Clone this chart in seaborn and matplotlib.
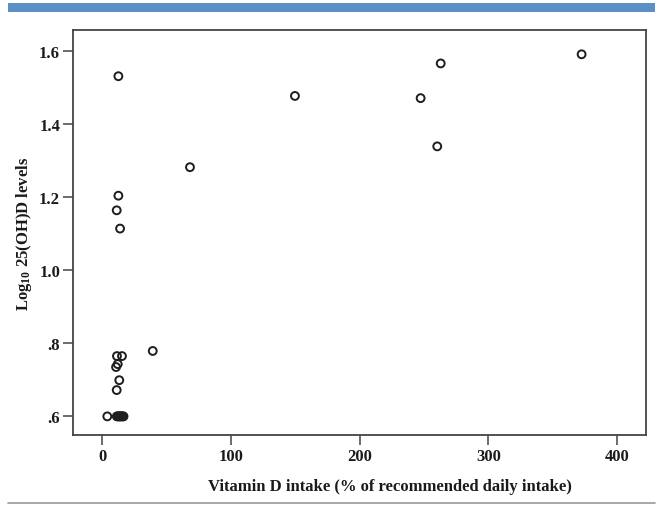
import matplotlib
matplotlib.use("Agg")
import matplotlib.pyplot as plt
import seaborn as sns
import pandas as pd
from matplotlib.patches import Rectangle
from matplotlib.lines import Line2D

# Data
vit_d_intake = [12.7, 12.7, 11.4, 14.0, 68.3, 149.8, 247.4, 263.0, 260.3, 372.4,
                39.4, 11.6, 15.5, 12.2, 10.9, 13.4, 11.4,
                4.1, 11.5, 12.3, 13.0, 13.8, 14.5, 15.3, 16.0, 16.7]
log_25ohd = [1.531, 1.204, 1.164, 1.114, 1.282, 1.477, 1.471, 1.566, 1.339, 1.591,
             0.779, 0.765, 0.765, 0.743, 0.735, 0.699, 0.672,
             0.600, 0.600, 0.600, 0.600, 0.600, 0.600, 0.600, 0.600, 0.600]
x_ticks = [0, 100, 200, 300, 400]
y_ticks = [0.6, 0.8, 1.0, 1.2, 1.4, 1.6]
y_tick_labels = [".6", ".8", "1.0", "1.2", "1.4", "1.6"]

df = pd.DataFrame({"intake": vit_d_intake, "log": log_25ohd})

sns.set_theme(style="white")
plt.rcParams["font.family"] = ["Liberation Serif", "DejaVu Serif"]
plt.rcParams["mathtext.fontset"] = "custom"
plt.rcParams["mathtext.rm"] = "Liberation Serif:bold"
plt.rcParams["mathtext.it"] = "Liberation Serif:bold"
plt.rcParams["mathtext.bf"] = "Liberation Serif:bold"

W, H = 659, 506
fig = plt.figure(figsize=(W / 100, H / 100), dpi=100)
ax = fig.add_axes([73.3 / W, 1 - 436 / H, (646 - 73.3) / W, (436 - 31) / H])

sns.scatterplot(data=df, x="intake", y="log", ax=ax, marker="o", s=32,
                facecolor="none", edgecolor="#1e1e1e", linewidth=1.4)

ax.set_xlim(-22.3, 422.4)
ax.set_ylim(0.549, 1.6575)
ax.set_xticks(x_ticks)
ax.set_xticklabels([str(t) for t in x_ticks])
ax.set_yticks(y_ticks)
ax.set_yticklabels(y_tick_labels)

for sp in ax.spines.values():
    sp.set_color("#444444")
    sp.set_linewidth(1.3)
    sp.set_visible(True)

ax.tick_params(axis="both", direction="out", length=7, width=1.1, color="#444444",
               labelsize=12, pad=2.5, bottom=True, left=True)
for lab in ax.get_xticklabels() + ax.get_yticklabels():
    lab.set_fontweight("bold")
    lab.set_color("#1a1a1a")

ax.set_xlabel("Vitamin D intake (% of recommended daily intake)", fontsize=12,
              fontweight="bold", color="#1a1a1a", labelpad=10)
ax.xaxis.label.set_x(0.553)
ax.set_ylabel(r"Log$_{10}$ 25(OH)D levels", fontsize=12, fontweight="bold",
              color="#1a1a1a", labelpad=3.4)

# Decorative top bar and bottom rule
fig.add_artist(Rectangle((8 / W, 1 - 12.7 / H), (655 - 8) / W, 8.7 / H,
                         transform=fig.transFigure, facecolor="#5B90C5",
                         edgecolor="none"))
fig.add_artist(Line2D([8 / W, 655 / W], [1 - 503.5 / H, 1 - 503.5 / H],
                      transform=fig.transFigure, color="#9a9a9a", linewidth=1.2))

fig.savefig("out.png", dpi=100)
